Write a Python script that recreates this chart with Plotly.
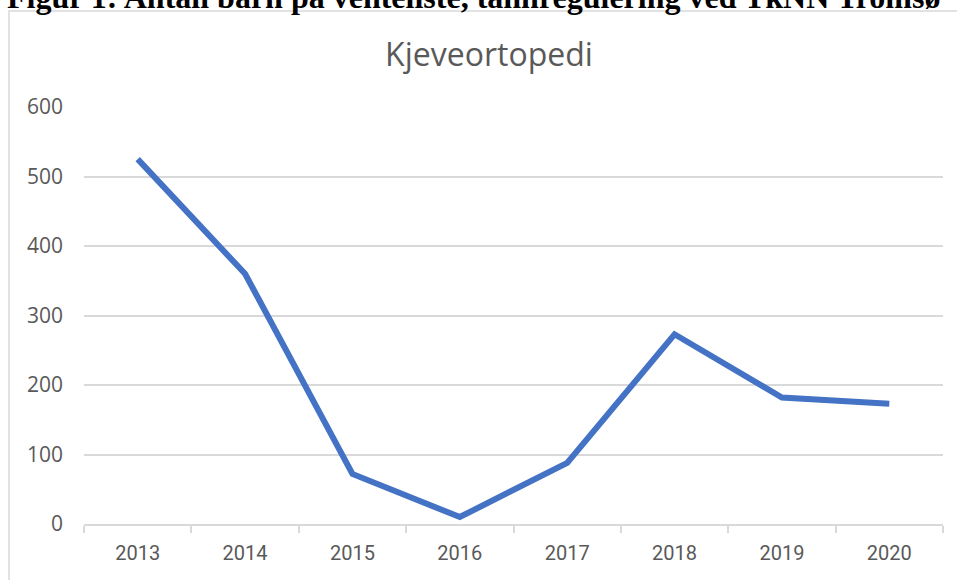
import plotly.graph_objects as go

# Kjeveortopedi: children on the waiting list per year
years = ["2013", "2014", "2015", "2016", "2017", "2018", "2019", "2020"]
waiting = [525, 360, 72, 10, 88, 273, 182, 173]
y_ticks = [0, 100, 200, 300, 400, 500, 600]

W, H = 957, 580
L, R, T, B = 84, 14, 107, 56
pw, ph = W - L - R, H - T - B


def px_x(x):
    return (x - L) / pw


def px_y(y):
    return (H - B - y) / ph


fig = go.Figure()
fig.add_trace(go.Scatter(
    x=years,
    y=waiting,
    mode="lines",
    line=dict(color="#4472C4", width=6),
    hoverinfo="x+y",
    showlegend=False,
))

# cut-off caption above the chart box
fig.add_annotation(
    text="<b>Figur 1: Antall barn på venteliste, tannregulering ved TkNN Tromsø</b>",
    xref="paper", yref="paper",
    x=px_x(5), y=px_y(17),
    xanchor="left", yanchor="bottom",
    showarrow=False,
    font=dict(family="Liberation Serif", size=32, color="#000000"),
)

# chart border
fig.add_shape(
    type="rect", xref="paper", yref="paper",
    x0=px_x(9), x1=px_x(990), y0=px_y(620), y1=px_y(11),
    line=dict(color="#d9d9d9", width=1.5),
    fillcolor="rgba(0,0,0,0)",
    layer="below",
)

fig.update_layout(
    width=W, height=H,
    margin=dict(l=L, r=R, t=T, b=B),
    plot_bgcolor="white", paper_bgcolor="white",
    title=dict(
        text="Kjeveortopedi",
        x=489 / W, xanchor="center",
        y=1 - 55 / H, yanchor="middle",
        font=dict(family="Open Sans", size=32, color="#595959"),
    ),
    font=dict(family="Open Sans", color="#595959"),
)
fig.update_xaxes(
    type="category",
    range=[-0.5, len(years) - 0.5],
    showgrid=False,
    showline=True, linecolor="#d9d9d9", linewidth=1.5,
    ticks="outside", tickson="boundaries", ticklen=7,
    tickcolor="#d9d9d9", tickwidth=1.5,
    tickfont=dict(family="Roboto", size=20, color="#595959"),
    ticklabelstandoff=10,
)
fig.update_yaxes(
    range=[0, 600],
    tickvals=y_ticks,
    showgrid=True, gridcolor="#d9d9d9", gridwidth=1.5,
    zeroline=False, showline=False,
    tickfont=dict(family="Open Sans", size=21, color="#595959"),
    ticklabelstandoff=20,
)

# drop the page's default body margin so the figure sits at the window's corner
fig.write_html(
    "out.html",
    config={"displayModeBar": False},
    post_script="document.body.style.margin='0';",
)
